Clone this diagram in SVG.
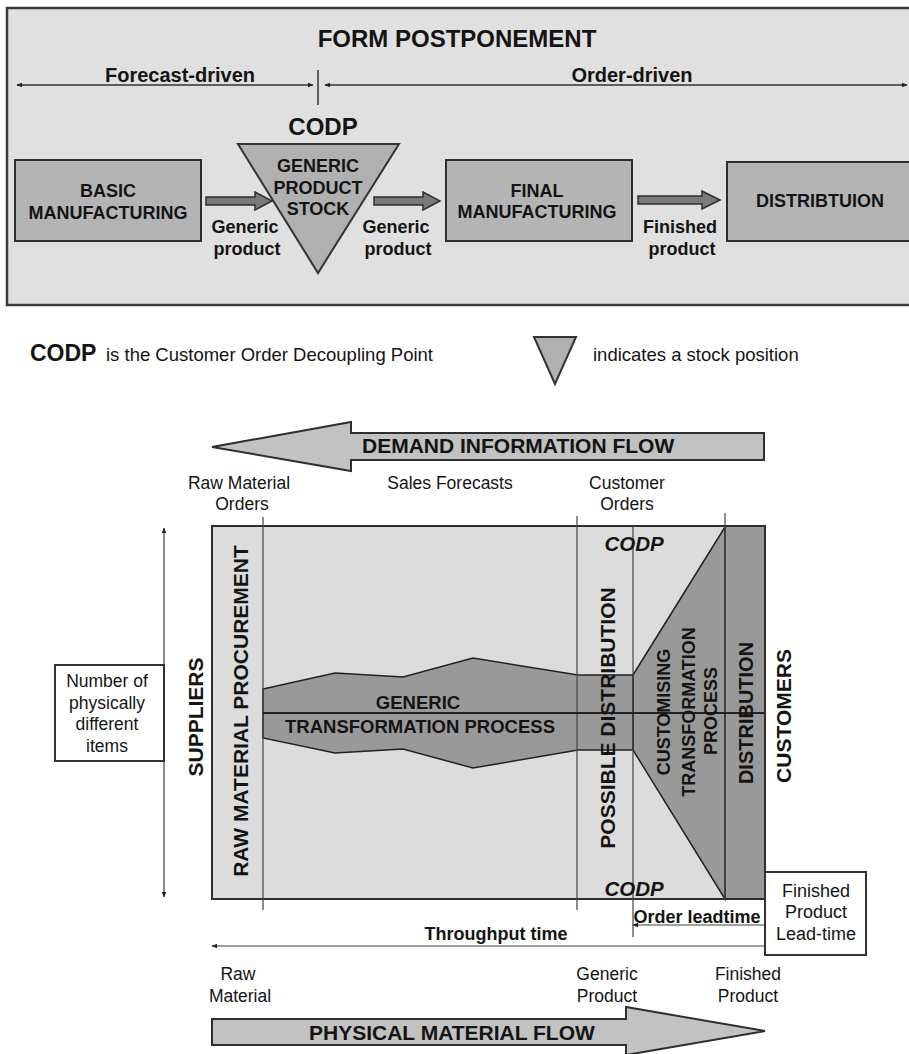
<svg xmlns="http://www.w3.org/2000/svg" width="909" height="1054" viewBox="0 0 909 1054">
<style>
text{font-family:"Liberation Sans",Arial,sans-serif;fill:#141414}
.b{font-weight:bold}
.box{fill:#b4b4b4;stroke:#2e2e2e;stroke-width:2}
.blk{fill:#7a7a7a;stroke:#2e2e2e;stroke-width:1.5}
.ln{stroke:#333;stroke-width:1.5;fill:none}
.thin{stroke:#444;stroke-width:1.2;fill:none}
.mid{text-anchor:middle}
</style>
<defs>
<marker id="ah" viewBox="0 0 10 10" refX="9" refY="5" markerWidth="6" markerHeight="6" orient="auto-start-reverse" markerUnits="userSpaceOnUse">
<path d="M0,1 L10,5 L0,9 z" fill="#222"/>
</marker>
</defs>

<!-- TOP PANEL -->
<g id="top-panel">
<rect x="7" y="8" width="912" height="297" fill="#e0e0e0" stroke="#3a3a3a" stroke-width="2.5"/>
<text class="b mid" x="457" y="47" font-size="24">FORM POSTPONEMENT</text>
</g>
<g id="timeline">
<line class="ln" x1="313" y1="85" x2="17" y2="85" marker-end="url(#ah)" marker-start="url(#ah)"/>
<line class="ln" x1="325" y1="85" x2="907" y2="85" marker-end="url(#ah)" marker-start="url(#ah)"/>
<line class="ln" x1="318" y1="70" x2="318" y2="105"/>
<text class="b mid" x="180" y="82" font-size="20">Forecast-driven</text>
<text class="b mid" x="632" y="82" font-size="20">Order-driven</text>
</g>
<g id="basic-manufacturing">
<rect class="box" x="15" y="160" width="186" height="81"/>
<text class="b mid" x="108" y="197" font-size="18">BASIC</text>
<text class="b mid" x="108" y="219" font-size="18">MANUFACTURING</text>
</g>
<g id="generic-product-stock">
<text class="b mid" x="323" y="135" font-size="24">CODP</text>
<polygon points="238,144 399,144 318,273" fill="#b0b0b0" stroke="#333" stroke-width="2"/>
<text class="b mid" x="318" y="172" font-size="18">GENERIC</text>
<text class="b mid" x="318" y="194" font-size="18">PRODUCT</text>
<text class="b mid" x="318" y="215" font-size="18">STOCK</text>
</g>
<g id="final-manufacturing">
<rect class="box" x="446" y="160" width="186" height="81"/>
<text class="b mid" x="537" y="197" font-size="18">FINAL</text>
<text class="b mid" x="537" y="218" font-size="18">MANUFACTURING</text>
</g>
<g id="distribution-top">
<rect class="box" x="727" y="162" width="195" height="79"/>
<text class="b mid" x="820" y="207" font-size="18">DISTRIBTUION</text>
</g>
<g id="top-connectors">
<path class="blk" d="M206,197 H255 V192 L272,201 L255,210 V205 H206 Z"/>
<path class="blk" d="M374,197 H423 V192 L440,201 L423,210 V205 H374 Z"/>
<path class="blk" d="M638,196 H702 V191 L720,200 L702,209 V204 H638 Z"/>
<text class="b mid" x="245" y="233" font-size="18">Generic</text>
<text class="b mid" x="247" y="255" font-size="18">product</text>
<text class="b mid" x="396" y="233" font-size="18">Generic</text>
<text class="b mid" x="398" y="255" font-size="18">product</text>
<text class="b mid" x="680" y="233" font-size="18">Finished</text>
<text class="b mid" x="682" y="255" font-size="18">product</text>
</g>

<!-- LEGEND -->
<g id="legend">
<text x="30" y="361" font-size="23" class="b">CODP</text>
<text x="106" y="361" font-size="18.5">is the Customer Order Decoupling Point</text>
<polygon points="534,337 576,337 555,384" fill="#b0b0b0" stroke="#333" stroke-width="2"/>
<text x="593" y="361" font-size="18.5">indicates a stock position</text>
</g>

<!-- BOTTOM DIAGRAM -->
<g id="demand-information-flow">
<path d="M212,447 L351,422 V433 H764 V460 H351 V471 Z" fill="#c2c2c2" stroke="#2e2e2e" stroke-width="2"/>
<text class="b" x="362" y="453" font-size="21">DEMAND INFORMATION FLOW</text>
</g>
<g id="info-labels">
<text class="mid" x="239" y="489" font-size="17.5">Raw Material</text>
<text class="mid" x="242" y="510" font-size="17.5">Orders</text>
<text class="mid" x="450" y="489" font-size="17.5">Sales Forecasts</text>
<text class="mid" x="627" y="489" font-size="17.5">Customer</text>
<text class="mid" x="627" y="510" font-size="17.5">Orders</text>
</g>
<g id="pipeline">
<rect x="212" y="526" width="553" height="373" fill="#dcdcdc" stroke="#2e2e2e" stroke-width="2"/>
<rect x="725" y="526" width="40" height="373" fill="#999"/>
<polygon points="633,675 725,527 725,899 633,750" fill="#999" stroke="#222" stroke-width="1.5"/>
<polygon points="263,689 335,673 403,677 473,658 578,675 633,675 633,750 578,750 473,768 403,749 335,753 263,738" fill="#999" stroke="#222" stroke-width="1.5"/>
<rect x="212" y="526" width="553" height="373" fill="none" stroke="#2e2e2e" stroke-width="2"/>
</g>
<g id="pipeline-lines">
<line class="thin" x1="263" y1="517" x2="263" y2="910"/>
<line class="thin" x1="577" y1="516" x2="577" y2="910"/>
<line class="thin" x1="633" y1="526" x2="633" y2="937"/>
<line class="thin" x1="725" y1="513" x2="725" y2="899"/>
<line x1="263" y1="713" x2="765" y2="713" stroke="#222" stroke-width="2"/>
</g>
<g id="pipeline-labels">
<text class="b mid" x="418" y="709" font-size="18.5">GENERIC</text>
<text class="b mid" x="420" y="733" font-size="18.5">TRANSFORMATION PROCESS</text>
<text class="b mid" x="634" y="551" font-size="20.5" font-style="italic">CODP</text>
<text class="b mid" x="634" y="896" font-size="20.5" font-style="italic">CODP</text>
<text class="b mid" font-size="21" transform="rotate(-90 203 717)" x="203" y="717">SUPPLIERS</text>
<text class="b mid" font-size="21" transform="rotate(-90 248 711)" x="248" y="711">RAW MATERIAL PROCUREMENT</text>
<text class="b mid" font-size="21" transform="rotate(-90 615 718)" x="615" y="718">POSSIBLE DISTRIBUTION</text>
<text class="b mid" font-size="18" transform="rotate(-90 670 712)" x="670" y="712">CUSTOMISING</text>
<text class="b mid" font-size="18" transform="rotate(-90 695 712)" x="695" y="712">TRANSFORMATION</text>
<text class="b mid" font-size="18" transform="rotate(-90 717 711)" x="717" y="711">PROCESS</text>
<text class="b mid" font-size="20" transform="rotate(-90 753 713)" x="753" y="713">DISTRIBUTION</text>
<text class="b mid" font-size="21" transform="rotate(-90 791 716)" x="791" y="716">CUSTOMERS</text>
</g>
<g id="items-axis">
<line class="thin" x1="164" y1="528" x2="164" y2="897" marker-start="url(#ah)" marker-end="url(#ah)"/>
<rect x="55" y="665" width="109" height="96" fill="#fff" stroke="#333" stroke-width="2"/>
<text class="mid" x="107" y="687" font-size="17.5">Number of</text>
<text class="mid" x="107" y="709" font-size="17.5">physically</text>
<text class="mid" x="107" y="730" font-size="17.5">different</text>
<text class="mid" x="107" y="752" font-size="17.5">items</text>
</g>
<g id="time-lines">
<line class="thin" x1="765" y1="946" x2="212" y2="946" marker-end="url(#ah)"/>
<text class="b mid" x="496" y="940" font-size="18">Throughput time</text>
<line class="thin" x1="765" y1="925" x2="633" y2="925" marker-end="url(#ah)"/>
<text class="b mid" x="697" y="923" font-size="18">Order leadtime</text>
</g>
<g id="finished-product-lead-time">
<rect x="765" y="872" width="101" height="83" fill="#fff" stroke="#333" stroke-width="2"/>
<text class="mid" x="816" y="897" font-size="18">Finished</text>
<text class="mid" x="816" y="918" font-size="18">Product</text>
<text class="mid" x="816" y="940" font-size="18">Lead-time</text>
</g>
<g id="material-labels">
<text class="mid" x="238" y="980" font-size="17.5">Raw</text>
<text class="mid" x="240" y="1002" font-size="17.5">Material</text>
<text class="mid" x="607" y="980" font-size="17.5">Generic</text>
<text class="mid" x="607" y="1002" font-size="17.5">Product</text>
<text class="mid" x="748" y="980" font-size="17.5">Finished</text>
<text class="mid" x="748" y="1002" font-size="17.5">Product</text>
</g>
<g id="physical-material-flow">
<path d="M212,1019 H626 V1007 L765,1031 L626,1055 V1045 H212 Z" fill="#c2c2c2" stroke="#2e2e2e" stroke-width="2"/>
<text class="b" x="309" y="1040" font-size="21">PHYSICAL MATERIAL FLOW</text>
</g>
</svg>
